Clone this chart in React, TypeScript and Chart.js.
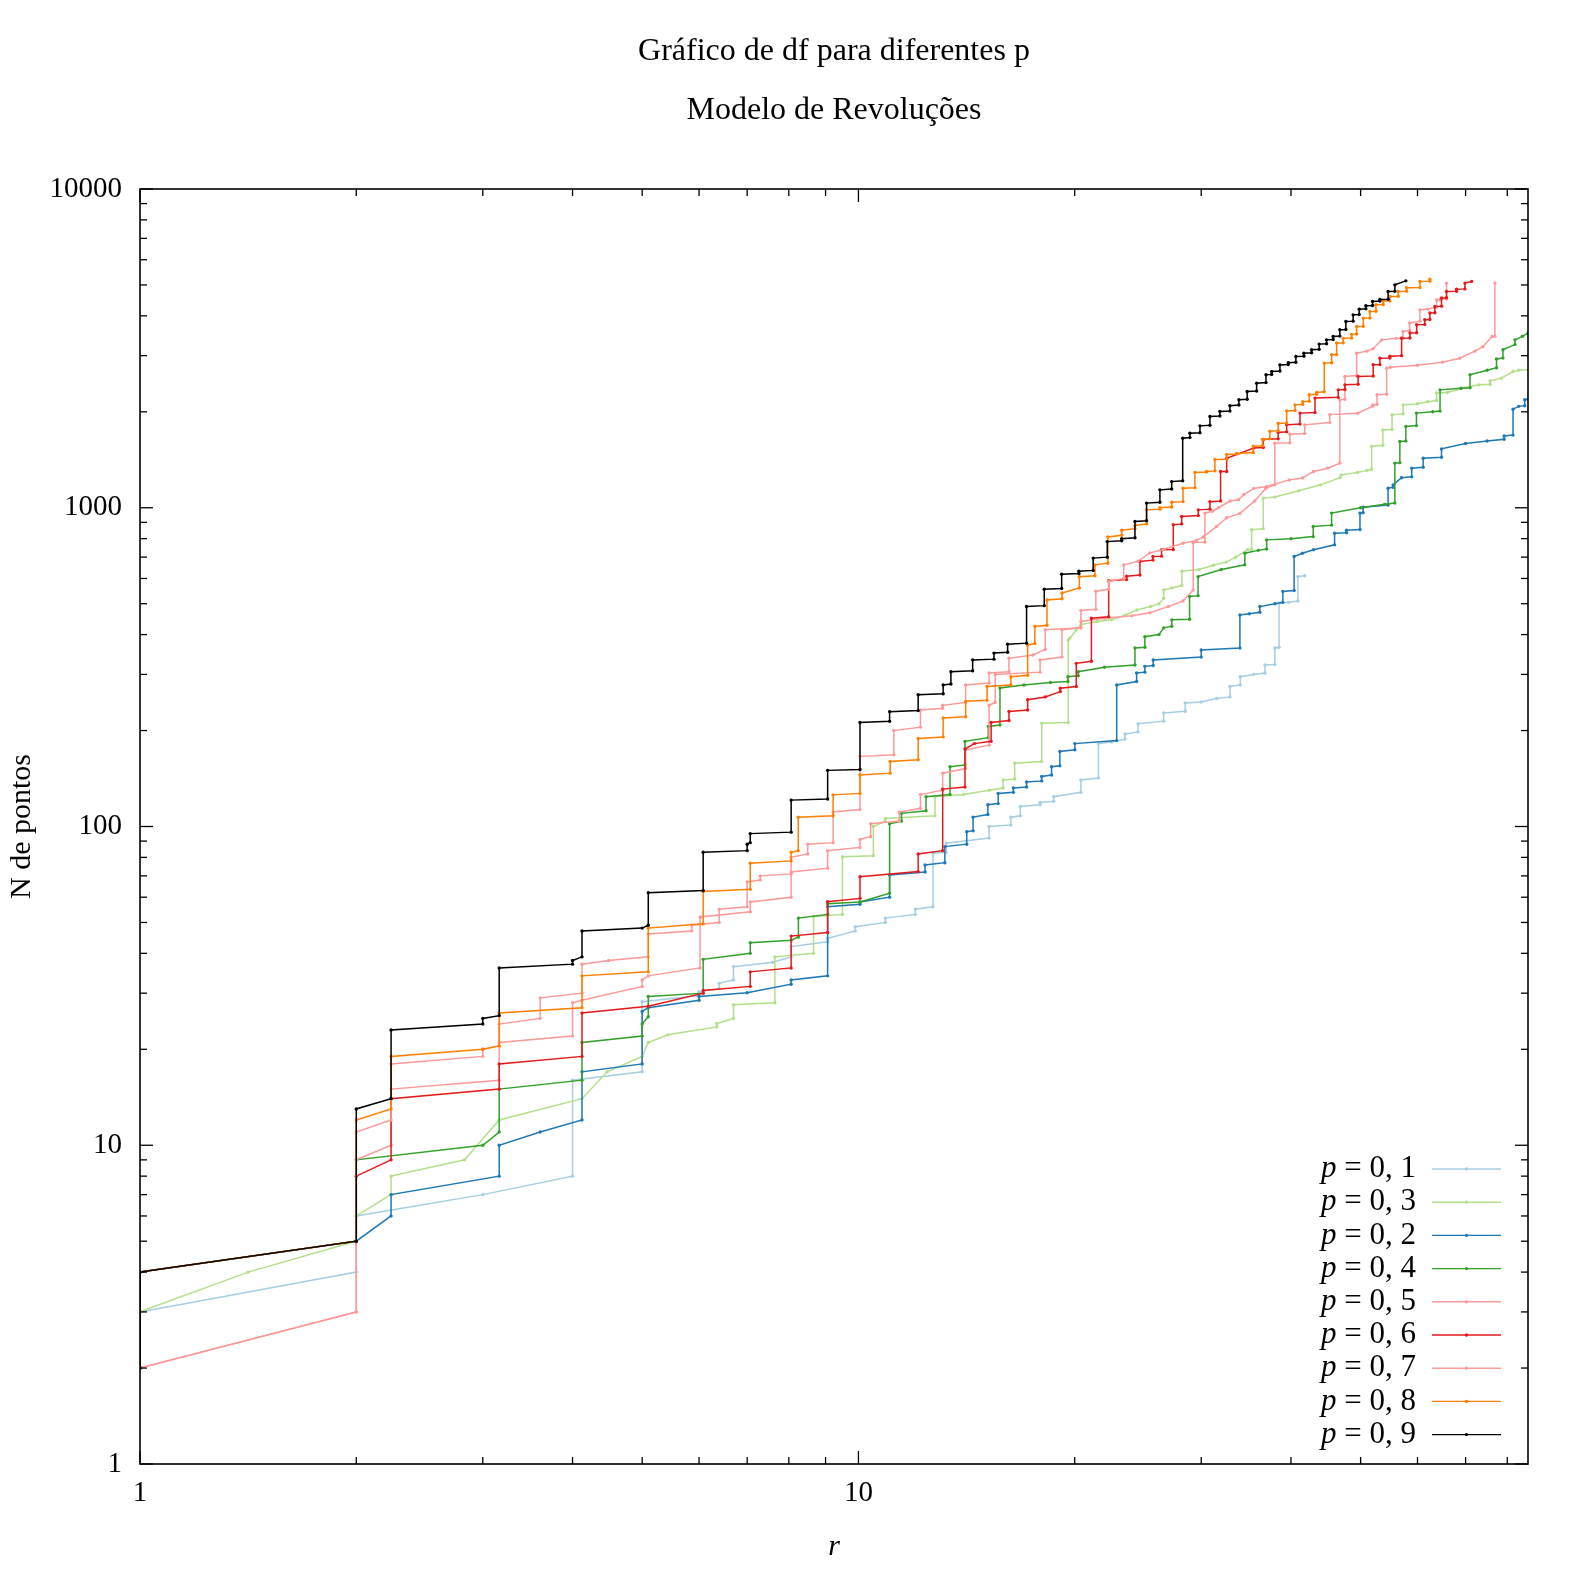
import React, { useEffect, useRef } from "react";
import { Chart, registerables } from "chart.js";

Chart.register(...registerables);

type Pt = [number, number];

const FONT = "'Liberation Serif', 'Times New Roman', serif";

const titleLines = ["Gráfico de df para diferentes p", "Modelo de Revoluções"];
const xTitle = "r";
const yTitle = "N de pontos";
const xTickValues = [1, 10];
const yTickValues = [1, 10, 100, 1000, 10000];
const xMin = 1;
const xMax = 85.5;
const yMin = 1;
const yMax = 10000;

const seriesLabels = ["p = 0, 1", "p = 0, 3", "p = 0, 2", "p = 0, 4", "p = 0, 5", "p = 0, 6", "p = 0, 7", "p = 0, 8", "p = 0, 9"];
const seriesColors = ["#a6cee3", "#b2df8a", "#1f78b4", "#33a02c", "#fb9a99", "#e31a1c", "#fb9a99", "#ff7f00", "#000000"];

// p = 0,1
const p01: Pt[] = [[1,2],[1,3],[2,4],[2,6],[3,7],[4,8],[4,16],[5,17],[5,28.2],[6.0,29.5],[6.0,30.3],[6.4,31],[6.4,32.2],[6.7,33],[6.7,36.3],[7.6,37.5],[8.06,39],[8.06,42],[9.06,43.5],[9.06,44.6],[9.9,47],[9.9,48.5],[10.9,50],[10.9,51.6],[12.0,53],[12.0,55],[12.7,56],[12.7,82.4],[13.25,83],[13.25,88.6],[15.2,92],[15.2,100],[16.3,101],[16.3,107],[16.8,108],[16.8,115.5],[17.9,117],[17.9,119],[18.7,120],[18.7,124],[20.4,128],[20.4,140],[21.58,142],[21.58,182],[22.5,184],[23.5,188],[23.5,195],[24.5,198],[24.5,210],[26.6,214],[26.6,227],[28.5,230],[28.5,244],[30,246],[31.5,252],[32.9,255],[32.9,275],[34,278],[34,295],[35.5,300],[36.8,303],[36.8,321],[37.98,322],[37.98,363],[38.5,365],[38.5,502],[39.7,505],[40.9,510],[40.9,608],[41.8,612]];

// p = 0,3
const p03: Pt[] = [[1,2],[1,3],[1.414,4],[2,5],[2,6],[2.236,7],[2.236,8],[2.83,9],[3.162,12],[4.123,14],[4.47,17],[5,19],[5.099,21],[5.43,22.2],[6.35,23.5],[6.35,24.1],[6.7,25],[6.7,27.6],[7.65,28],[7.65,39],[8.66,40],[8.66,52.2],[9.5,53],[9.5,80.4],[10.49,81],[10.49,100],[10.9,104],[10.9,106],[12.78,108],[12.78,124],[14,126],[15.2,130],[15.9,132],[15.9,140],[16.5,141],[16.5,158],[17.99,160],[17.99,211],[19.59,212],[19.59,385],[19.7,390],[20.1,414],[20.4,430],[21.5,440],[22.5,445],[23.5,460],[24.4,478],[25.5,490],[26.2,500],[26.6,520],[26.6,552],[27.3,560],[28.2,570],[28.2,632],[29.8,640],[31.2,660],[32.5,675],[33.5,700],[34.8,738],[35.26,740],[35.26,853],[36.6,860],[36.6,1072],[38,1080],[41,1130],[44,1180],[46.8,1242],[47,1268],[49.5,1290],[51,1310],[51.8,1320],[51.8,1560],[53.7,1570],[53.7,1755],[55.3,1760],[55.3,1956],[57.3,1970],[57.3,2103],[60,2120],[62,2150],[63.8,2170],[63.8,2290],[66,2300],[70,2380],[73,2430],[75.7,2440],[75.7,2500],[78.5,2550],[81.5,2676],[83,2700],[85.5,2710]];

// p = 0,2
const p02: Pt[] = [[1,2],[1,4],[2,5],[2.236,6],[2.236,7],[3.162,8],[3.162,10],[3.606,11],[4.123,12],[4.123,17],[5,18],[5,26.3],[5.099,27],[6.0,28.5],[6.0,29.3],[7.0,30.1],[8.06,32],[8.06,33],[9.06,34],[9.06,56],[10.05,57],[10.05,58],[11.05,60],[11.05,70.5],[12.38,72],[12.38,75.7],[13.19,77],[13.19,86.5],[14.15,88],[14.15,96.3],[14.44,97],[14.44,107],[15.14,109],[15.14,117],[15.65,118],[15.65,127],[16.43,128],[16.43,132],[17.14,133],[17.14,138],[17.99,139],[17.99,143.5],[18.57,145],[18.57,154],[19.07,155],[19.07,172],[20.01,174],[20.01,182],[22.88,186],[22.88,278],[24.39,285],[24.39,303],[25.04,305],[25.04,318],[25.72,320],[25.72,333],[30,340],[30,358],[33.96,363],[33.96,461],[35,465],[36.2,470],[36.2,490],[38,500],[38.97,505],[38.97,546],[40.4,550],[40.4,703],[41.5,720],[43,738],[46,765],[46,832],[47.8,835],[47.8,850],[49.9,855],[49.9,962],[50.4,965],[50.4,1004],[54.6,1020],[54.6,1152],[55.5,1160],[55.5,1180],[57,1242],[58.9,1250],[58.9,1331],[61.1,1340],[61.1,1430],[64.8,1440],[64.8,1530],[70,1590],[75,1620],[79.2,1640],[79.2,1680],[81.5,1690],[81.5,2038],[83,2080],[84.6,2090],[84.6,2181],[85.5,2190]];

// p = 0,4
const p04: Pt[] = [[1,2],[1,4],[2,5],[2,9],[3,10],[3.162,11],[3.162,15],[4.123,16],[4.123,21],[5,22],[5,24],[5.099,25.3],[5.099,29.3],[6.08,30],[6.08,38.3],[7.07,40],[7.07,43.2],[8.06,44],[8.25,45],[8.25,51.6],[9.06,53],[9.06,57.2],[10.05,58],[11.05,61.8],[11.05,102],[11.48,104],[11.48,110],[12.42,112],[12.42,124],[13.41,126],[13.41,154],[14.07,156],[14.07,185],[15.16,190],[15.16,206],[15.74,208],[15.74,272],[17,278],[18.5,283],[19.57,285],[19.57,295],[20.23,297],[20.23,306],[22,316],[24.26,321],[24.26,363],[25.04,365],[25.04,394],[26.2,400],[26.6,420],[27.3,425],[27.3,445],[28.9,447],[28.9,527],[29.7,530],[29.7,608],[32,640],[34.5,662],[34.5,720],[36,735],[37,742],[37,793],[40,800],[42.95,812],[42.95,873],[45.56,882],[45.56,962],[50,1000],[54,1025],[55.8,1035],[55.8,1380],[56.7,1385],[56.7,1614],[57.8,1620],[57.8,1798],[59.8,1810],[59.8,1981],[63,2000],[64.5,2010],[64.5,2344],[69,2370],[71,2380],[71,2613],[75,2700],[77.3,2750],[77.3,2930],[78.9,2950],[78.9,3131],[82,3250],[82,3363],[84,3450],[85.5,3532]];

// p = 0,5
const p05: Pt[] = [[1,2],[2,3],[2,9],[2.236,10],[2.236,15],[3.162,16],[3.162,21],[4,22],[4,28],[4.123,28.5],[5,31.5],[5,33],[5.099,34],[6.02,36],[6.02,52],[7.07,54],[7.07,58],[8.06,60],[8.06,72],[9.06,74],[9.06,84],[10.05,86],[10.05,91],[10.4,93],[10.4,102],[11.4,104],[11.4,111],[12.2,114],[12.2,126],[13.1,130],[13.1,147],[14.1,152],[14.1,174],[15.2,180],[15.2,240],[15.5,245],[15.5,300],[17.9,305],[17.9,333],[19.2,340],[19.2,414],[20.4,420],[20.4,440],[22,450],[24,458],[25.45,468],[27,490],[28.3,510],[29.24,552],[29.24,778],[30.36,780],[30.36,962],[31.1,975],[31.7,1000],[32.9,1050],[33.8,1060],[34.4,1100],[35.5,1150],[37,1166],[39.8,1223],[41.5,1240],[43,1300],[45,1331],[46.78,1380],[46.78,2181],[47.55,2190],[47.55,2580],[49.37,2600],[49.37,3055],[51,3100],[52,3150],[53.5,3363],[56,3400],[57.27,3410],[57.27,3573],[58.5,3600],[58.5,3800],[60.47,3850],[60.47,4177],[62,4200],[63.8,4260],[63.8,4487],[64.5,4500],[65.85,4520],[65.85,5067]];

// p = 0,6
const p06: Pt[] = [[1,2],[1,4],[2,5],[2,8],[2.236,9],[2.236,14],[3.162,15],[3.162,18],[4.123,19],[4.123,26],[5.099,27.3],[6.08,30],[6.08,30.6],[7.07,31.5],[7.07,35],[8.06,36],[8.06,45.3],[9.06,46.5],[9.06,58.1],[10.05,59.5],[10.05,69.6],[12.11,72.2],[12.11,82],[13.1,84],[13.1,131],[14.07,133],[14.07,175],[14.5,182],[15.3,185],[15.3,212],[16.2,215],[16.2,229.6],[17.2,232],[17.2,250],[18.2,255],[19.1,265],[19.1,271.6],[20.1,275],[20.1,325],[21.1,330],[21.1,450],[22.3,455],[22.3,590],[23.62,595],[23.62,610],[24.65,615],[24.65,678],[25.7,685],[25.7,703],[26.42,705],[26.42,738],[27.43,740],[27.43,884],[28.18,890],[28.18,939],[29.72,945],[29.72,985],[30.85,990],[30.85,1045],[31.92,1050],[31.92,1299],[32.55,1300],[32.55,1430],[35.5,1540],[36.6,1545],[36.6,1638],[38.39,1645],[38.39,1722],[39.45,1730],[39.45,1820],[41.17,1830],[41.17,1981],[43.2,1990],[43.2,2208],[46.54,2220],[46.54,2344],[47.55,2350],[47.55,2430],[49.6,2440],[49.6,2580],[52.06,2590],[52.06,2808],[53.19,2815],[53.19,2946],[54.93,2950],[54.93,2990],[57.02,3000],[57.02,3404],[58.57,3410],[58.57,3532],[59.84,3540],[59.84,3750],[61.42,3760],[61.42,3888],[62.43,3895],[62.43,4081],[63.44,4090],[63.44,4280],[64.81,4290],[64.81,4549],[65.85,4560],[65.85,4770],[68,4780],[68,4850],[69.85,4860],[69.85,5067],[71.37,5130]];

// p = 0,7
const p07: Pt[] = [[1,2],[2,3],[2,11],[2.236,12],[2.236,18],[3,19],[3,20],[3.162,20.5],[3.162,24],[3.606,25],[3.606,29],[4.123,30],[4.123,37],[4.49,38],[5.099,39],[5.099,46],[5.86,47],[5.86,49],[6.4,50],[6.4,55],[7,56],[7,67],[7.3,68],[7.3,70],[8.06,71],[8.06,80],[8.5,82],[8.5,88],[9.22,89],[9.22,111],[10.05,113],[10.05,166],[11.2,168],[11.2,200],[12.2,205],[12.2,232],[13.1,235],[13.1,240],[14.1,245],[14.1,278],[15.2,282],[15.2,303],[16.2,306],[16.2,337],[17.5,345],[18.2,360],[18.2,414],[20.4,420],[20.4,476],[21.4,480],[21.4,547],[22.3,555],[22.3,587],[23.4,600],[23.4,661],[24.5,680],[25.45,722],[26.56,740],[28.3,774],[29.56,790],[30.2,810],[31.5,873],[32.55,930],[33.96,960],[35.6,1050],[36.9,1150],[37.98,1180],[37.98,1594],[39.86,1600],[39.86,1700],[41.8,1710],[41.8,1820],[45.3,1850],[45.3,1960],[49.5,1980],[52,2083],[52,2100],[52.7,2110],[52.7,2261],[54.35,2270],[54.35,2741],[55,2760],[60,2800],[65,2860],[68.7,2946],[72.1,3100],[74,3200],[76.2,3445],[76.9,3450],[76.9,5067]];

// p = 0,8
const p08: Pt[] = [[1,2],[1,4],[2,5],[2,12],[2.236,13],[2.236,19],[3,20],[3.162,20.5],[3.162,26],[4.123,27],[4.123,34],[5.099,35],[5.099,48],[6.08,49.5],[6.08,62.5],[7.07,63.5],[7.07,76.7],[8.06,78],[8.06,83],[8.246,84],[8.246,107],[9.22,108],[9.22,125.7],[10.05,127],[10.05,145],[11.07,147],[11.07,160],[12.11,162],[12.11,189],[13.12,191],[13.12,219],[14.1,221],[14.1,247],[15.1,249],[15.1,275],[16.3,278],[16.3,295],[17.2,298],[17.2,371],[17.6,375],[17.6,424],[18.3,428],[18.3,514],[19.2,518],[19.2,540],[20.3,560],[20.3,608],[21.34,612],[21.34,662],[22.24,670],[22.24,810],[23.25,820],[23.25,850],[24.26,860],[24.26,880],[25.18,890],[25.18,985],[26.28,990],[26.28,1000],[27.29,1005],[27.29,1040],[28.3,1045],[28.3,1151],[29.4,1155],[29.4,1291],[30.5,1295],[30.5,1300],[31.35,1305],[31.35,1418],[32.55,1420],[32.55,1470],[33.6,1475],[33.6,1480],[35.44,1490],[35.44,1560],[36.52,1565],[36.52,1638],[37.38,1645],[37.38,1737],[38.39,1745],[38.39,1837],[39.45,1845],[39.45,2013],[40.52,2020],[40.52,2103],[41.53,2110],[41.53,2150],[42.41,2160],[42.41,2261],[43.43,2270],[43.43,2300],[44.5,2310],[44.5,2843],[45.57,2850],[45.57,3020],[46.3,3025],[46.3,3286],[47.29,3290],[47.29,3400],[48.58,3410],[48.58,3500],[49.37,3510],[49.37,3704],[50.43,3710],[50.43,3935],[51.52,3940],[51.52,4128],[52.52,4135],[52.52,4334],[53.76,4340],[53.76,4450],[54.93,4455],[54.93,4600],[56.4,4610],[56.4,4770],[57.94,4780],[57.94,4900],[60.47,4910],[60.47,5130],[62.43,5140],[62.43,5215]];

// p = 0,9
const p09: Pt[] = [[1,2],[1,4],[2,5],[2,13],[2.236,14],[2.236,23],[3,24],[3,25],[3.162,25.5],[3.162,36],[4,37],[4,38],[4.123,39],[4.123,47],[5,48],[5.099,49],[5.099,62],[6.08,63],[6.08,83],[7,84],[7,88],[7.07,89],[7.07,95],[8.06,96],[8.06,121],[9.06,122],[9.06,150],[10.05,151],[10.05,212],[11.05,214],[11.05,229],[12.11,231],[12.11,259],[13.12,261],[13.12,278],[13.45,280],[13.45,306],[14.42,308],[14.42,333],[15.44,335],[15.44,350],[16.13,352],[16.13,373],[17.14,376],[17.14,490],[18.14,493],[18.14,555],[19.18,558],[19.18,619],[20.27,622],[20.27,632],[21.22,636],[21.22,695],[22.2,700],[22.2,783],[23.25,788],[23.25,800],[24.26,805],[24.26,905],[25.18,910],[25.18,1034],[26.28,1040],[26.28,1138],[27.29,1145],[27.29,1208],[28.27,1215],[28.27,1652],[28.93,1660],[28.93,1714],[29.88,1720],[29.88,1807],[30.85,1815],[30.85,1934],[31.85,1940],[31.85,2004],[32.89,2010],[32.89,2090],[33.85,2100],[33.85,2181],[34.76,2190],[34.76,2316],[35.83,2325],[35.83,2460],[36.92,2470],[36.92,2613],[37.6,2620],[37.6,2676],[38.61,2685],[38.61,2806],[39.65,2815],[39.65,2850],[40.63,2860],[40.63,2981],[41.69,2990],[41.69,3055],[42.73,3065],[42.73,3131],[43.78,3140],[43.78,3261],[44.83,3270],[44.83,3363],[45.79,3372],[45.79,3447],[46.78,3455],[46.78,3616],[47.69,3625],[47.69,3841],[48.82,3850],[48.82,4029],[49.77,4040],[49.77,4198],[50.85,4210],[50.85,4301],[51.95,4310],[51.95,4437],[53.19,4450],[53.19,4500],[54.61,4510],[54.61,4768],[55.8,4780],[55.8,5002],[57.8,5150]];

const seriesData: Pt[][] = [p01, p03, p02, p04, p05, p06, p07, p08, p09];

const frameTicksPlugin = {
  id: "frameTicks",
  afterDatasetsDraw(chart: any) {
    const { ctx, chartArea: a, scales } = chart;
    const xs = scales.x;
    const ys = scales.y;
    ctx.save();
    ctx.strokeStyle = "#000";
    ctx.lineWidth = 1.3;
    const seg = (x1: number, y1: number, x2: number, y2: number) => {
      ctx.beginPath();
      ctx.moveTo(x1, y1);
      ctx.lineTo(x2, y2);
      ctx.stroke();
    };
    for (let d = 1; d <= 100; d *= 10) {
      for (let m = 1; m <= 9; m++) {
        const v = m * d;
        if (v < xMin || v > xMax) continue;
        const px = xs.getPixelForValue(v);
        const len = m === 1 ? 13 : 7;
        seg(px, a.bottom, px, a.bottom - len);
        seg(px, a.top, px, a.top + len);
      }
    }
    for (let d = 1; d <= 10000; d *= 10) {
      for (let m = 1; m <= 9; m++) {
        const v = m * d;
        if (v < yMin || v > yMax) continue;
        const py = ys.getPixelForValue(v);
        const len = m === 1 ? 13 : 7;
        seg(a.left, py, a.left + len, py);
        seg(a.right, py, a.right - len, py);
      }
    }
    ctx.lineWidth = 1.6;
    ctx.strokeRect(a.left, a.top, a.right - a.left, a.bottom - a.top);
    ctx.restore();
  },
};

const legendPlugin = {
  id: "insideLegend",
  afterDraw(chart: any) {
    const { ctx, chartArea: a } = chart;
    ctx.save();
    chart.data.datasets.forEach((ds: any, i: number) => {
      const y = a.bottom - 295 + i * 33.2;
      const textRight = a.right - 112;
      const lineL = a.right - 96;
      const lineR = a.right - 27;
      const label: string = ds.label;
      const first = label.slice(0, 1);
      const rest = label.slice(1);
      ctx.textBaseline = "middle";
      ctx.fillStyle = "#000";
      ctx.font = `31px ${FONT}`;
      const wRest = ctx.measureText(rest).width;
      ctx.textAlign = "right";
      ctx.fillText(rest, textRight, y);
      ctx.font = `italic 31px ${FONT}`;
      ctx.fillText(first, textRight - wRest, y);
      ctx.strokeStyle = ds.borderColor;
      ctx.lineWidth = 1.4;
      ctx.beginPath();
      ctx.moveTo(lineL, y);
      ctx.lineTo(lineR, y);
      ctx.stroke();
      ctx.fillStyle = ds.borderColor;
      ctx.beginPath();
      ctx.arc((lineL + lineR) / 2, y, 1.7, 0, Math.PI * 2);
      ctx.fill();
    });
    ctx.restore();
  },
};

export default function App() {
  const canvasRef = useRef<HTMLCanvasElement | null>(null);

  useEffect(() => {
    if (!canvasRef.current) return;
    Chart.defaults.font.family = FONT;
    const datasets = seriesData.map((pts, i) => ({
      label: seriesLabels[i],
      data: pts.map(([x, y]) => ({ x, y })),
      showLine: true,
      borderColor: seriesColors[i],
      backgroundColor: seriesColors[i],
      borderWidth: 1.5,
      pointRadius: 1.7,
      pointBorderWidth: 0,
      pointHoverRadius: 0,
      order: 8 - i,
    }));
    const chart = new Chart(canvasRef.current, {
      type: "scatter",
      data: { datasets },
      options: {
        responsive: false,
        animation: false,
        events: [],
        layout: { padding: { left: 0, right: 44, top: 0, bottom: 0 } },
        plugins: {
          legend: { display: false },
          tooltip: { enabled: false },
          title: {
            display: true,
            fullSize: false,
            text: titleLines,
            color: "#000",
            font: { family: FONT, size: 32, weight: "normal", lineHeight: 1.85 },
            padding: { top: 22, bottom: 48.6 },
          },
        },
        scales: {
          x: {
            type: "logarithmic",
            min: xMin,
            max: xMax,
            position: "bottom",
            grid: { display: false, drawTicks: false },
            border: { display: false },
            afterBuildTicks: (s: any) => {
              s.ticks = xTickValues.map((v) => ({ value: v }));
            },
            afterFit: (s: any) => {
              s.height = 108;
            },
            ticks: {
              autoSkip: false,
              maxRotation: 0,
              minRotation: 0,
              padding: 12,
              color: "#000",
              font: { family: FONT, size: 29 },
              callback: (v: any) => String(v),
            },
            title: {
              display: true,
              text: xTitle,
              color: "#000",
              font: { family: FONT, size: 30, style: "italic" },
              padding: { top: 0, bottom: 7 },
            },
          },
          y: {
            type: "logarithmic",
            min: yMin,
            max: yMax,
            position: "left",
            grid: { display: false, drawTicks: false },
            border: { display: false },
            afterBuildTicks: (s: any) => {
              s.ticks = yTickValues.map((v) => ({ value: v }));
            },
            afterFit: (s: any) => {
              s.width = 140;
            },
            ticks: {
              autoSkip: false,
              padding: 18,
              color: "#000",
              font: { family: FONT, size: 29 },
              callback: (v: any) => String(v),
            },
            title: {
              display: true,
              text: yTitle,
              color: "#000",
              font: { family: FONT, size: 30 },
              padding: { top: 4, bottom: 0 },
            },
          },
        },
      },
      plugins: [frameTicksPlugin, legendPlugin],
    } as any);
    return () => chart.destroy();
  }, []);

  return (
    <div style={{ position: "absolute", left: 0, top: 0, width: 1572, height: 1572, background: "#fff" }}>
      <canvas ref={canvasRef} width={1572} height={1572} style={{ display: "block", width: 1572, height: 1572 }} />
    </div>
  );
}
